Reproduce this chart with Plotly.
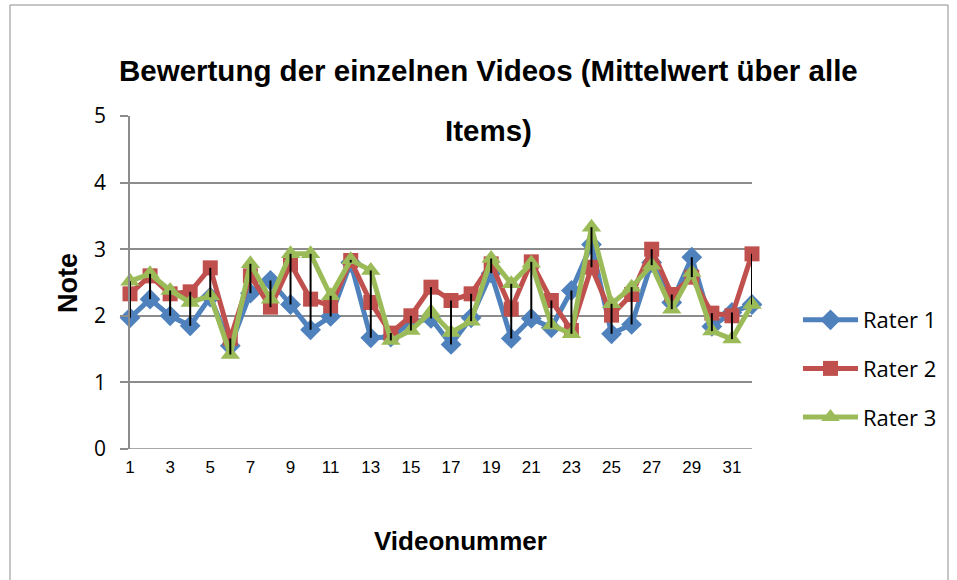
import plotly.graph_objects as go

# Mean rating per video (average over all items) for each rater
videos = list(range(1, 33))
rater1 = [1.97, 2.25, 2.00, 1.85, 2.28, 1.55, 2.34, 2.53, 2.17, 1.79,
          1.99, 2.80, 1.67, 1.68, 1.90, 1.96, 1.57, 1.97, 2.64, 1.66,
          1.96, 1.82, 2.38, 3.07, 1.73, 1.87, 2.80, 2.20, 2.88, 1.84,
          2.05, 2.17]
rater2 = [2.33, 2.60, 2.33, 2.36, 2.72, 1.66, 2.60, 2.13, 2.78, 2.25,
          2.15, 2.83, 2.20, 1.74, 2.00, 2.43, 2.23, 2.33, 2.78, 2.10,
          2.81, 2.23, 1.78, 2.73, 2.01, 2.32, 3.00, 2.32, 2.58, 2.04,
          2.00, 2.93]
rater3 = [2.52, 2.63, 2.38, 2.20, 2.30, 1.42, 2.78, 2.25, 2.93, 2.93,
          2.30, 2.84, 2.68, 1.63, 1.78, 2.06, 1.75, 1.92, 2.86, 2.48,
          2.79, 1.86, 1.73, 3.33, 2.18, 2.43, 2.76, 2.10, 2.65, 1.77,
          1.65, 2.17]
series_names = ["Rater 1", "Rater 2", "Rater 3"]
x_tick_values = list(range(1, 33, 2))
x_tick_labels = [str(v) for v in x_tick_values]
y_tick_values = [0, 1, 2, 3, 4, 5]

colors = ["#4F81BD", "#C0504D", "#9BBB59"]
symbols = ["diamond", "square", "triangle-up"]
sizes = [16, 15, 17]

W, H = 957, 580
L, R, T, B = 130, 752, 116, 449  # plot area in pixels


def px_x(p):
    return (p - L) / (R - L)


def px_y(p):
    return (B - p) / (B - T)


fig = go.Figure()

for name, vals, c, s, sz in zip(series_names, [rater1, rater2, rater3],
                                colors, symbols, sizes):
    fig.add_trace(go.Scatter(
        x=videos, y=vals, name=name, mode="lines+markers",
        line=dict(color=c, width=5),
        marker=dict(symbol=s, size=sz, color=c, line=dict(width=0)),
        cliponaxis=False, legendgroup=name,
    ))

# High-low lines joining the lowest and highest rating of each video
hl_x, hl_y = [], []
for i, v in enumerate(videos):
    trio = [rater1[i], rater2[i], rater3[i]]
    hl_x += [v, v, None]
    hl_y += [min(trio), max(trio), None]
fig.add_trace(go.Scatter(
    x=hl_x, y=hl_y, mode="lines", line=dict(color="black", width=2),
    showlegend=False, hoverinfo="skip", cliponaxis=False,
))

font_main = "Liberation Sans, Arial, sans-serif"
font_body = "Open Sans, Liberation Sans, sans-serif"

fig.update_layout(
    width=W, height=H,
    margin=dict(l=L, r=W - R, t=T, b=H - B, autoexpand=False),
    paper_bgcolor="white", plot_bgcolor="white",
    font=dict(family=font_main, color="black"),
    showlegend=True,
    legend=dict(
        x=px_x(798), y=px_y(299), xanchor="left", yanchor="top",
        font=dict(size=22, family=font_body),
        tracegroupgap=17, itemwidth=55, bgcolor="rgba(0,0,0,0)",
    ),
    xaxis=dict(
        range=[1, 32], tickmode="array", tickvals=x_tick_values,
        ticktext=x_tick_labels, showgrid=False, zeroline=False,
        showline=False, ticks="", ticklabelstandoff=6,
        tickfont=dict(size=17, family="Liberation Sans Narrow, Liberation Sans, sans-serif"),
    ),
    yaxis=dict(
        range=[0, 5], tickmode="array", tickvals=y_tick_values,
        showgrid=True, gridcolor="#8C8C8C", gridwidth=1.5,
        zeroline=False, showline=True, linecolor="#8C8C8C", linewidth=1.5,
        ticks="outside", ticklen=8, tickcolor="#8C8C8C", tickwidth=1.5,
        ticklabelstandoff=10,
        tickfont=dict(size=21, family=font_body),
    ),
    shapes=[
        # x axis line at y = 0
        dict(type="line", xref="paper", yref="y", x0=px_x(122), x1=1,
             y0=0, y1=0, line=dict(color="#8C8C8C", width=1.5), layer="below"),
        # chart frame
        dict(type="rect", xref="paper", yref="paper",
             x0=px_x(10), x1=px_x(948), y0=px_y(600), y1=px_y(5),
             line=dict(color="#8C8C8C", width=1)),
    ],
    annotations=[
        dict(text="<b>Bewertung der einzelnen Videos (Mittelwert über alle</b>",
             xref="paper", yref="paper", x=px_x(488), y=px_y(70),
             xanchor="center", yanchor="middle", showarrow=False,
             font=dict(size=29.5, family=font_main)),
        dict(text="<b>Items)</b>",
             xref="paper", yref="paper", x=px_x(488), y=px_y(130),
             xanchor="center", yanchor="middle", showarrow=False,
             font=dict(size=29.5, family=font_main)),
        dict(text="<b>Note</b>", textangle=-90,
             xref="paper", yref="paper", x=px_x(68), y=px_y(283),
             xanchor="center", yanchor="middle", showarrow=False,
             font=dict(size=27, family=font_main)),
        dict(text="<b>Videonummer</b>",
             xref="paper", yref="paper", x=px_x(460), y=px_y(541),
             xanchor="center", yanchor="middle", showarrow=False,
             font=dict(size=26, family=font_main)),
    ],
)

fig.write_html("out.html")
